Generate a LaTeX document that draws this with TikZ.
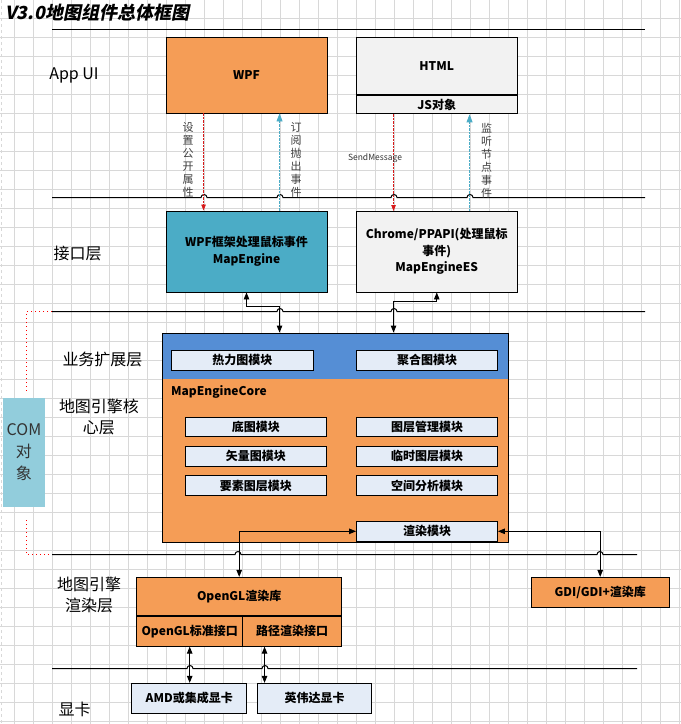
\documentclass[tikz,border=0pt]{standalone}
\usepackage{fontspec}
\setmainfont{Noto Sans CJK SC}
\newfontfamily\titlefont{Noto Sans CJK SC}[FakeSlant=0.2]
\usetikzlibrary{arrows.meta, positioning, calc}
\definecolor{uiorange}{RGB}{245,157,86}
\definecolor{webgray}{RGB}{242,242,242}
\definecolor{engteal}{RGB}{75,172,198}
\definecolor{extblue}{RGB}{85,142,213}
\definecolor{modfill}{RGB}{228,236,247}
\definecolor{comblue}{RGB}{146,205,220}
\definecolor{gridgray}{RGB}{216,216,216}
\definecolor{callred}{RGB}{215,25,25}
\tikzset{
  archbox/.style={
    rectangle, draw=black, line width=0.9pt, inner sep=1pt,
    align=center, fill=#1, text=black,
    font=\bfseries\fontsize{12}{16.5}\selectfont
  },
  modbox/.style={
    archbox=modfill, minimum width=141pt, minimum height=19.5pt
  },
  layertext/.style={font=\fontsize{16}{21}\selectfont, align=center},
  sidetext/.style={
    font=\fontsize{11}{13}\selectfont, text=black!75,
    align=center, inner sep=0pt
  },
  layerline/.style={draw=black, line width=1pt},
  linkarrow/.style={
    {Triangle[length=7pt,width=5.5pt]}-{Triangle[length=7pt,width=5.5pt]},
    line width=0.9pt
  },
  calldash/.style={
    -{Triangle[length=6pt,width=4.5pt]}, draw=callred,
    dash pattern=on 2.5pt off 1pt, line width=0.8pt
  },
  eventdash/.style={
    -{Triangle[length=8pt,width=6pt]}, draw=engteal,
    dash pattern=on 2.5pt off 1pt, line width=0.8pt
  },
  comdot/.style={draw=red, dash pattern=on 1pt off 3pt, line width=1pt},
}

\begin{document}
\begin{tikzpicture}[x=1pt, y=-1pt]
  \useasboundingbox (0,0) rectangle (681,724);
  \fill[white] (0,0) rectangle (681,724);
  \foreach \gx in {14.3,33.3,...,681}
    \draw[gridgray, line width=0.9pt] (\gx,0) -- (\gx,724);
  \foreach \gy in {18.3,37.3,...,724}
    \draw[gridgray, line width=0.9pt] (0,\gy) -- (681,\gy);
  \draw[gridgray, dashed] (0.8,0) -- (0.8,724);

  \node[anchor=west, inner sep=0pt,
        font=\titlefont\bfseries\fontsize{18}{20}\selectfont] (title) at (5,12.5)
        {V3.0地图组件总体框图};

  % layer separators
  \coordinate (s1w) at (52,29.5);  \coordinate (s1e) at (645,29.5);
  \coordinate (s2w) at (52,197.5); \coordinate (s2e) at (645,197.5);
  \coordinate (s3w) at (52,311.5); \coordinate (s3e) at (645,311.5);
  \coordinate (s4w) at (52,554.5); \coordinate (s4e) at (637,554.5);
  \coordinate (s5w) at (52,668.5); \coordinate (s5e) at (637,668.5);
  \draw[layerline] (s1w) -- (s1e);
  \draw[layerline] (s2w) -- (201,197.5) arc[start angle=180, end angle=0, radius=3pt]
    -- (277,197.5) arc[start angle=180, end angle=0, radius=3pt]
    -- (391,197.5) arc[start angle=180, end angle=0, radius=3pt]
    -- (467,197.5) arc[start angle=180, end angle=0, radius=3pt] -- (s2e);
  \draw[layerline] (s3w) -- (277,311.5) arc[start angle=180, end angle=0, radius=3pt]
    -- (391,311.5) arc[start angle=180, end angle=0, radius=3pt] -- (s3e);
  \draw[layerline] (s4w) -- (235,554.5) arc[start angle=180, end angle=0, radius=3pt]
    -- (597,554.5) arc[start angle=180, end angle=0, radius=3pt] -- (s4e);
  \draw[layerline] (s5w) -- (187,668.5) arc[start angle=180, end angle=0, radius=3pt]
    -- (262,668.5) arc[start angle=180, end angle=0, radius=3pt] -- (s5e);

  \node[layertext] (lui) at (74,75) {App UI};
  \node[layertext] (lapi) at (77.5,253) {接口层};
  \node[layertext] (lext) at (102.5,359) {业务扩展层};
  \node[layertext] (lcore) at (99,416.5) {地图引擎核\\心层};
  \node[layertext] (lrend) at (89,595) {地图引擎\\渲染层};
  \node[layertext] (lgpu) at (74.5,709) {显卡};

  \node[fill=comblue, minimum width=38pt, minimum height=109pt,
        font=\fontsize{16}{22}\selectfont, text=black!80, align=center]
        (com) at (24,452.5) {COM\\对\\象};

  \node[archbox=uiorange, minimum width=161pt, minimum height=76pt]
        (wpf) at (246.5,75) {WPF};
  \node[archbox=webgray, minimum width=160.5pt, minimum height=57.7pt]
        (html) at (436.75,65.85) {HTML};
  \node[archbox=webgray, minimum width=160.5pt, minimum height=18.3pt,
        below=0pt of html] (js) {JS对象};

  \node[archbox=engteal, minimum width=161pt, minimum height=81pt]
        (mapeng) at (246.5,251.5) {WPF框架处理鼠标事件\\MapEngine};
  \node[archbox=webgray, minimum width=160.5pt, minimum height=80.5pt]
        (mapenges) at (436.75,251.75) {Chrome/PPAPI(处理鼠标\\事件)\\MapEngineES};

  \node[archbox=uiorange, minimum width=346pt, minimum height=209pt,
        path picture={\fill[extblue] (path picture bounding box.north west)
          rectangle ([yshift=-46.3pt]path picture bounding box.north east);}]
        (core) at (335.5,437.5) {};
  \node[modbox, minimum width=142pt] (heat) at (242.3,360.3) {热力图模块};
  \node[modbox] (clus) at (427,360.3) {聚合图模块};
  \node[anchor=west, inner sep=0pt, font=\bfseries\fontsize{12}{14}\selectfont]
        (corelbl) at (171,392) {MapEngineCore};
  \node[modbox] (base) at (255.8,426.8) {底图模块};
  \node[modbox, below=9pt of base] (vec) {矢量图模块};
  \node[modbox, below=9pt of vec] (feat) {要素图层模块};
  \node[modbox] (lmgr) at (427,426.8) {图层管理模块};
  \node[modbox, below=9pt of lmgr] (tmp) {临时图层模块};
  \node[modbox, below=9pt of tmp] (spa) {空间分析模块};
  \node[modbox] (rend) at (427,531.3) {渲染模块};

  \node[archbox=uiorange, minimum width=205pt, minimum height=38pt]
        (oglib) at (239.2,596.3) {OpenGL渲染库};
  \node[archbox=uiorange, minimum width=106pt, minimum height=30pt,
        anchor=north west] (oglstd) at (oglib.south west) {OpenGL标准接口};
  \node[archbox=uiorange, minimum width=99pt, minimum height=30pt,
        anchor=north east] (glpath) at (oglib.south east) {路径渲染接口};
  \node[archbox=uiorange, minimum width=138.3pt, minimum height=30pt]
        (gdi) at (600.2,592.3) {GDI/GDI+渲染库};

  \node[archbox=modfill, minimum width=115pt, minimum height=30pt]
        (amd) at (189.2,698.3) {AMD或集成显卡};
  \node[archbox=modfill, minimum width=114.4pt, minimum height=30pt]
        (nv) at (314.5,698.3) {英伟达显卡};

  \draw[calldash] ([xshift=38pt]wpf.south west) -- ([xshift=38pt]mapeng.north west);
  \draw[eventdash] ([xshift=114pt]mapeng.north west) -- ([xshift=114pt]wpf.south west);
  \draw[calldash] ([xshift=37.5pt]js.south west) -- ([xshift=37.5pt]mapenges.north west);
  \draw[eventdash] ([xshift=113.5pt]mapenges.north west) -- ([xshift=113.5pt]js.south west);
  \node[sidetext] (tset) at (188,160) {设\\置\\公\\开\\属\\性};
  \node[sidetext] (tsub) at (296,160) {订\\阅\\抛\\出\\事\\件};
  \node[inner sep=0pt, font=\fontsize{8.5}{10}\selectfont, text=black!80]
        (tsend) at (375,158.5) {SendMessage};
  \node[sidetext] (tlis) at (486.5,160.5) {监\\听\\节\\点\\事\\件};

  \draw[linkarrow] (mapeng.south) -- ++(0,14) -| ([xshift=117.5pt]core.north west);
  \draw[linkarrow] (mapenges.south) -- ++(0,8.7) -| ([xshift=231.5pt]core.north west);
  \draw[linkarrow] (rend.west) -| (oglib.north);
  \draw[linkarrow] (rend.east) -| (gdi.north);
  \draw[linkarrow] (oglstd.south) -- (oglstd.south |- amd.north);
  \draw[linkarrow] ([xshift=22.3pt]glpath.south west)
    -- ([xshift=22.3pt]glpath.south west |- nv.north);

  \draw[comdot, shorten >=5pt] (s3w) -| ([xshift=2.7pt]com.north);
  \draw[comdot, shorten <=13pt] ([xshift=2.7pt]com.south) |- (s4w);
\end{tikzpicture}
\end{document}
